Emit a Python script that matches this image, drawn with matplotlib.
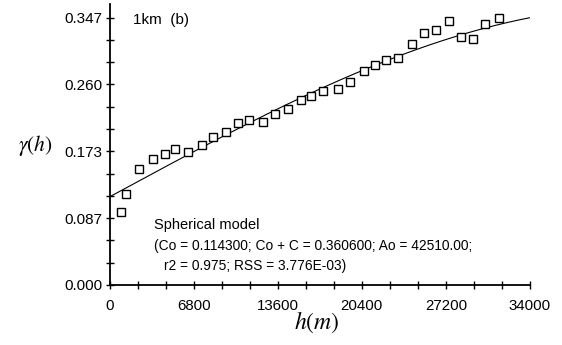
import numpy as np
import matplotlib
matplotlib.use("Agg")
import matplotlib.pyplot as plt
from matplotlib.ticker import MultipleLocator, FixedLocator

plt.rcParams['font.family'] = ['Liberation Sans', 'DejaVu Sans']
plt.rcParams['mathtext.fontset'] = 'stix'

# --- data ---
lag_h = [906, 1310, 2385, 3542, 4488, 5321, 6348, 7455, 8393, 9396,
         10415, 11256, 12388, 13383, 14458, 15485, 16318, 17288, 18452, 19406,
         20555, 21493, 22358, 23304, 24460, 25455, 26401, 27428, 28422, 29392,
         30387, 31519]
semivar = [0.0943, 0.118, 0.1505, 0.1638, 0.1699, 0.1760, 0.1729, 0.1816, 0.1916, 0.1984,
           0.2097, 0.2136, 0.2114, 0.2218, 0.2287, 0.2403, 0.2455, 0.2512, 0.2546, 0.2629,
           0.2776, 0.2853, 0.2914, 0.2940, 0.3130, 0.3268, 0.3311, 0.3428, 0.3223, 0.3191,
           0.3385, 0.3459]

# spherical model parameters (as printed on the chart)
nugget_Co = 0.114300
sill_CoC = 0.360600
range_Ao = 42510.00

xtick_vals = [0, 6800, 13600, 20400, 27200, 34000]
xtick_labels = ["0", "6800", "13600", "20400", "27200", "34000"]
ytick_vals = [0.0, 0.08675, 0.1735, 0.26025, 0.347]
ytick_labels = ["0.000", "0.087", "0.173", "0.260", "0.347"]

# --- figure ---
W, H = 562, 345
fig = plt.figure(figsize=(W / 100, H / 100), dpi=100)
x0, x1, ytop, ybot = 109.5, 530, 4, 285
ax = fig.add_axes([x0 / W, 1 - ybot / H, (x1 - x0) / W, (ybot - ytop) / H])

ymax = 0.347 + (17.5 - ytop) / ((ybot - 17.5) / 0.347)
ax.set_xlim(0, 34000)
ax.set_ylim(0, ymax)

# model curve
hh = np.linspace(0, 34000, 400)
C = sill_CoC - nugget_Co
r = np.clip(hh / range_Ao, 0, 1)
gam = nugget_Co + C * (1.5 * r - 0.5 * r ** 3)
ax.plot(hh, gam, color='black', lw=0.8, zorder=2)

ax.plot(lag_h, semivar, linestyle='none', marker='s', markersize=6.3,
        markerfacecolor='white', markeredgecolor='black', markeredgewidth=1.0,
        zorder=3, clip_on=False)

for s in ['top', 'right']:
    ax.spines[s].set_visible(False)
for s in ['left', 'bottom']:
    ax.spines[s].set_linewidth(1.3)
    ax.spines[s].set_color('black')

ax.xaxis.set_major_locator(FixedLocator(xtick_vals))
ax.set_xticklabels(xtick_labels)
ax.xaxis.set_minor_locator(MultipleLocator(6800 / 3))
ax.yaxis.set_major_locator(FixedLocator(ytick_vals))
ax.set_yticklabels(ytick_labels)
ax.yaxis.set_minor_locator(FixedLocator([i * 0.347 / 12 for i in range(13)]))

ax.tick_params(which='both', direction='inout', length=6, width=1.0, color='black')
ax.tick_params(axis='x', which='major', labelsize=10.8, pad=7)
ax.tick_params(axis='y', which='major', labelsize=11, pad=2)

def px(x, y):
    return x / W, 1 - y / H

fig.text(*px(317, 322), r'$h(m)$', fontsize=17, ha='center', va='center')
fig.text(*px(35, 146), r'$\gamma(h)$', fontsize=15.5, ha='center', va='center')
fig.text(*px(133, 20), '1km  (b)', fontsize=11, ha='left', va='center')

fig.text(*px(154, 225), 'Spherical model', fontsize=10.5, ha='left', va='center')
fig.text(*px(154, 246), '(Co = 0.114300; Co + C = 0.360600; Ao = 42510.00;',
         fontsize=9.9, ha='left', va='center')
fig.text(*px(164, 266), 'r2 = 0.975; RSS = 3.776E-03)', fontsize=9.9,
         ha='left', va='center')

fig.savefig('out.png', dpi=100, facecolor='white')
